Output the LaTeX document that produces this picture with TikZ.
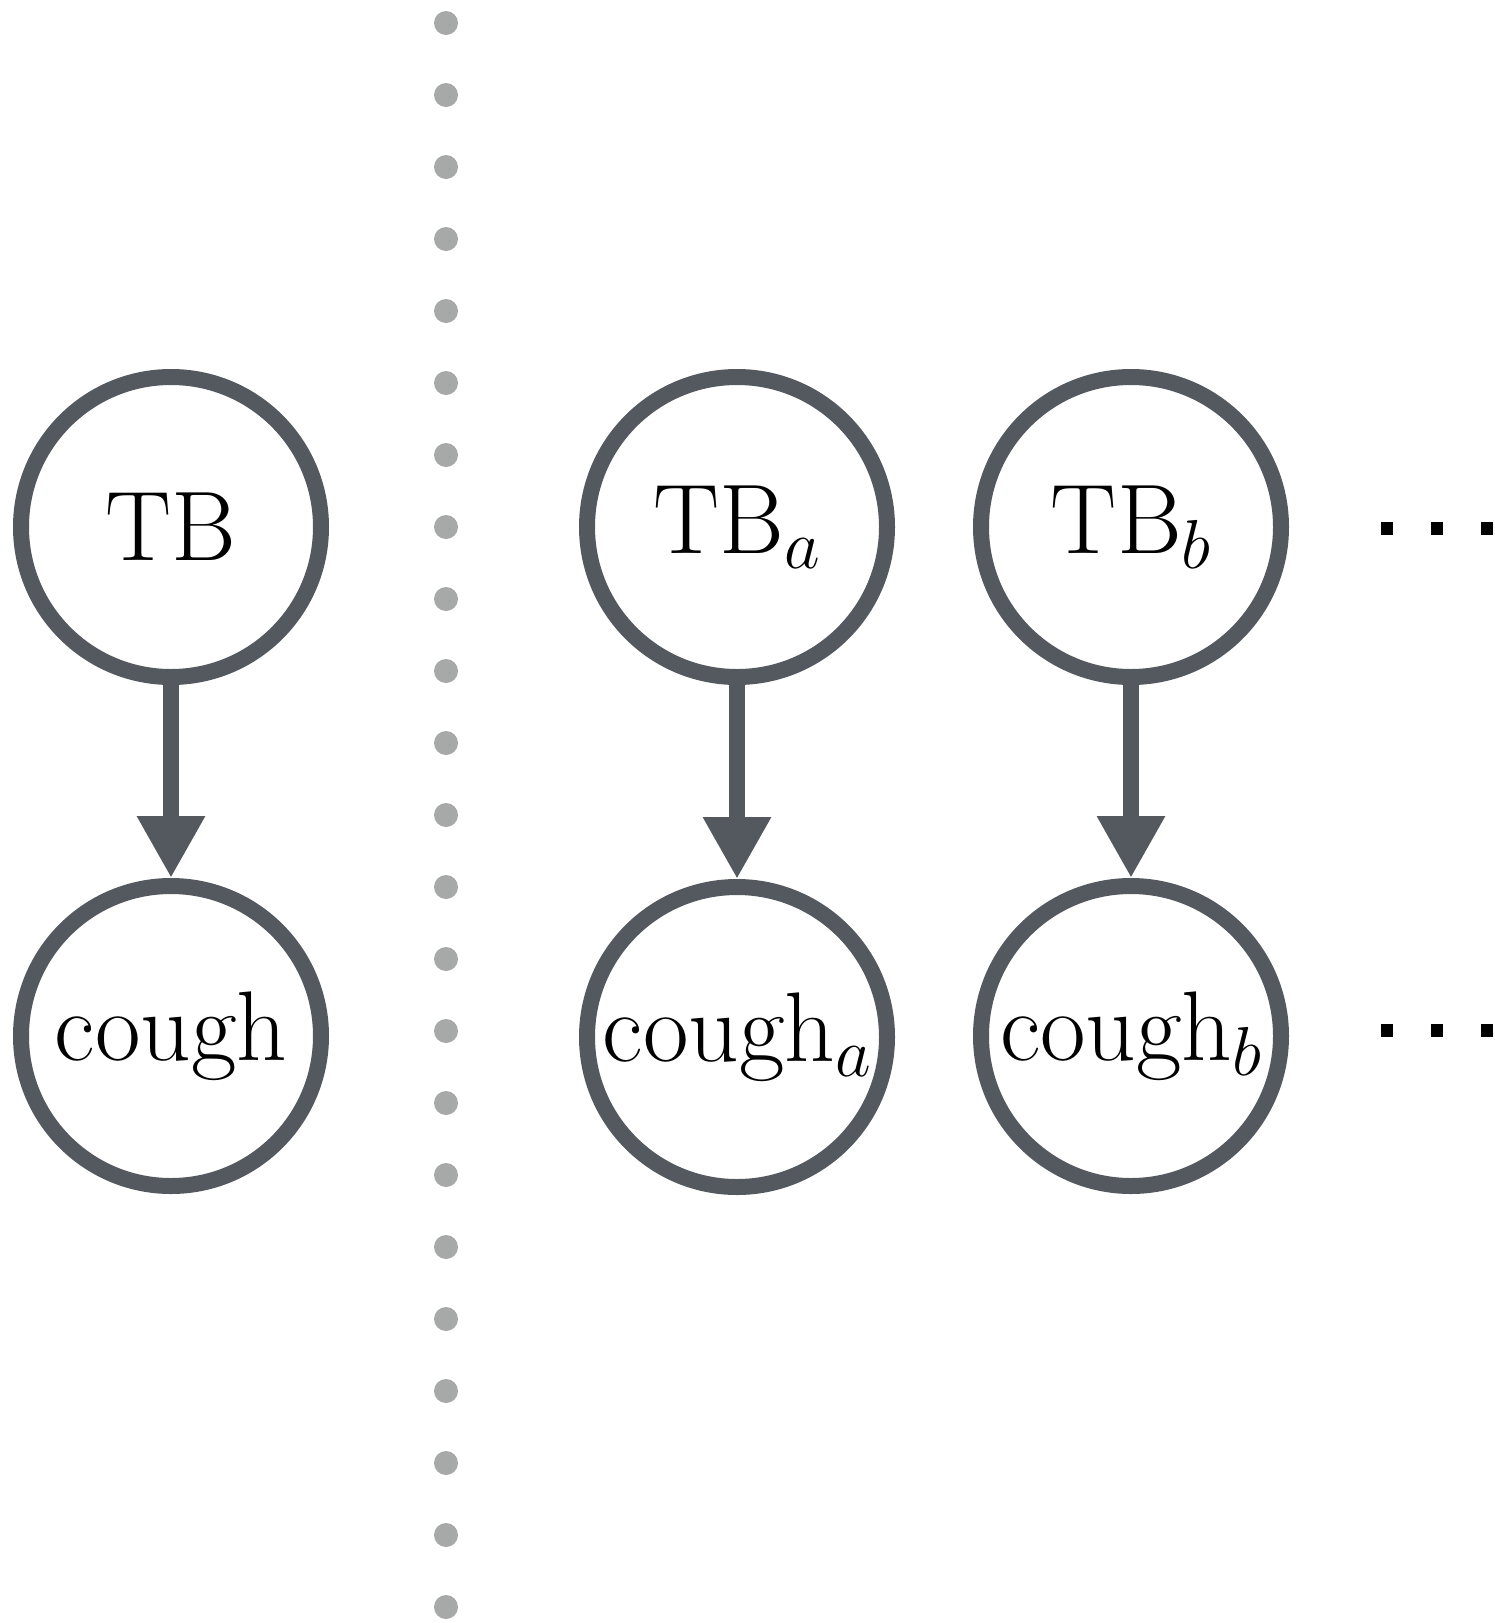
\RequirePackage{fix-cm}
\documentclass[tikz,border=0pt]{standalone}
\usetikzlibrary{arrows.meta}
\definecolor{ringc}{HTML}{54595F}
\definecolor{dotc}{HTML}{A6A9A7}
\begin{document}
\begin{tikzpicture}[x=1pt,y=-1pt,
  var/.style={circle,draw=ringc,line width=16pt,fill=white,minimum size=300pt,
    inner sep=0pt,font=\fontsize{99}{118}\selectfont},
  edge/.style={draw=ringc,line width=16pt,-{Triangle[length=62pt,width=64pt]},color=ringc},
  sq/.style={fill=black,minimum width=12pt,minimum height=13pt,inner sep=0pt}]
\useasboundingbox (0,0) rectangle (1495,1623);
% dotted separator
\foreach \i in {0,...,22}
  \fill[dotc] (446,23+72*\i) circle (12);
% nodes
\node[var] (tb)  at (171,527)  {TB};
\node[var] (cg)  at (171,1036) {cough};
\node[var] (tba) at (737,527)  {TB$_a$};
\node[var] (cga) at (737,1037) {cough$_a$};
\node[var] (tbb) at (1131,527) {TB$_b$};
\node[var] (cgb) at (1131,1036) {\raisebox{5pt}{cough$_b$}};
% edges
\draw[edge] (tb) -- (cg);
\draw[edge] (tba) -- (cga);
\draw[edge] (tbb) -- (cgb);
% trailing ellipses
\foreach \x [count=\k] in {1387,1437,1487} {
  \node[sq] (e1\k) at (\x,528) {};
  \node[sq] (e2\k) at (\x,1030) {};
}
\end{tikzpicture}
\end{document}
